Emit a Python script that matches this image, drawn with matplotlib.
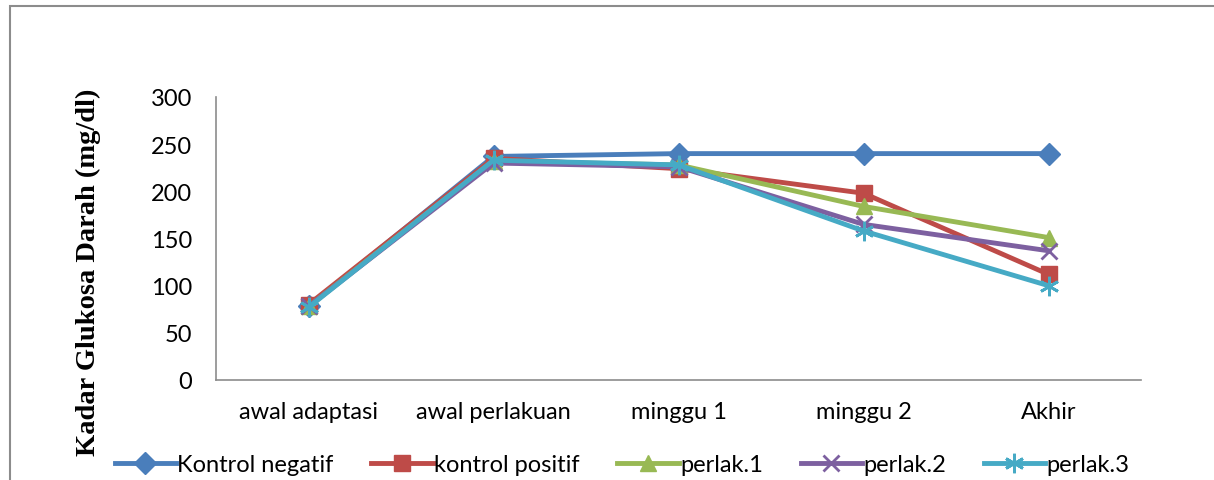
import matplotlib.pyplot as plt
from matplotlib.patches import Rectangle

# ---------------------------------------------------
# DATA
# ---------------------------------------------------

categories = ["awal adaptasi", "awal perlakuan", "minggu 1", "minggu 2", "Akhir"]

kontrol_negatif = [78, 237, 240, 240, 240]
kontrol_positif = [80, 235, 224, 198, 112]
perlak_1 = [78, 232, 228, 184, 151]
perlak_2 = [78, 230, 226, 165, 137]
perlak_3 = [77, 233, 228, 158, 100]

series_names = ["Kontrol negatif", "kontrol positif", "perlak.1", "perlak.2", "perlak.3"]

# ---------------------------------------------------
# STYLE
# ---------------------------------------------------

colors = ["#4A7EBB", "#BE4B48", "#98B954", "#7D60A0", "#46AAC5"]
markers = ["D", "s", "^", "x", (6, 2, 0)]
marker_sizes = [11, 12, 12, 12, 14]

plt.rcParams["font.family"] = ["Lato", "DejaVu Sans"]

fig = plt.figure(figsize=(12.14, 4.81), dpi=100)

# outer chart frame (cut off on right and bottom in the original)
fig.patches.append(
    Rectangle(
        (10 / 1214, -0.1),
        1.2,
        1 - 7 / 481 + 0.1,
        transform=fig.transFigure,
        fill=False,
        edgecolor="#8C8C8C",
        linewidth=1.5
    )
)

ax = fig.add_axes([216 / 1214, 1 - 381 / 481, (1141 - 216) / 1214, (381 - 98) / 481])

x = list(range(len(categories)))
all_series = [kontrol_negatif, kontrol_positif, perlak_1, perlak_2, perlak_3]

for values, name, color, marker, ms in zip(all_series, series_names, colors, markers, marker_sizes):
    ax.plot(
        x,
        values,
        color=color,
        marker=marker,
        markersize=ms,
        markeredgewidth=2 if marker in ("x", (6, 2, 0)) else 1,
        markeredgecolor=color,
        linewidth=3.5,
        label=name
    )

ax.set_xlim(-0.5, 4.5)
ax.set_ylim(0, 300)
ax.set_yticks([0, 50, 100, 150, 200, 250, 300])
ax.set_xticks(x)
ax.set_xticklabels(categories)

ax.tick_params(axis="both", length=0, labelsize=17)
ax.tick_params(axis="y", pad=17)
ax.tick_params(axis="x", pad=15)

for side in ["top", "right"]:
    ax.spines[side].set_visible(False)

for side in ["left", "bottom"]:
    ax.spines[side].set_color("#8C8C8C")
    ax.spines[side].set_linewidth(1.2)

fig.text(
    88 / 1214,
    1 - 272 / 481,
    "Kadar Glukosa Darah (mg/dl)",
    rotation=90,
    ha="center",
    va="center",
    fontsize=20.5,
    fontweight="bold",
    family="Liberation Serif"
)

ax.legend(
    loc="center",
    bbox_to_anchor=(622 / 1214, 1 - 466 / 481),
    bbox_transform=fig.transFigure,
    ncol=5,
    frameon=False,
    fontsize=17,
    handlelength=2.6,
    handletextpad=0.05,
    columnspacing=1.6
)

plt.savefig("out.png", dpi=100)
